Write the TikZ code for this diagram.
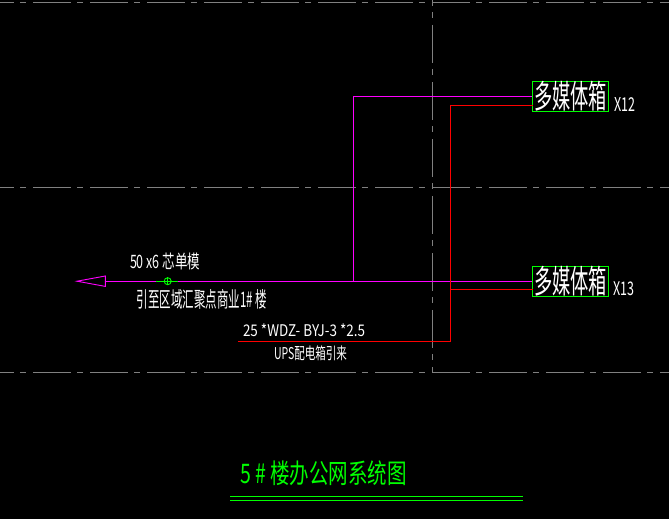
\documentclass[tikz,border=0pt]{standalone}
\usepackage{fontspec}
\usepackage{graphicx}
\newfontfamily\cadfont{Noto Sans CJK SC}
\newcommand{\cadtext}[3]{\resizebox*{#1pt}{#2pt}{\cadfont #3}}
\definecolor{axisgrey}{HTML}{808080}
\definecolor{cadgreen}{HTML}{00FF00}
\definecolor{cadpink}{HTML}{FF00FF}
\definecolor{cadred}{HTML}{FF0000}
\tikzset{
	axisline/.style={axisgrey,line width=0.9pt,dash pattern=on 38pt off 6pt on 6pt off 7pt},
	pinkline/.style={cadpink,line width=0.9pt},
	redline/.style={cadred,line width=0.9pt},
	greenline/.style={cadgreen,line width=0.9pt},
	boxnode/.style={draw=cadgreen,line width=0.9pt,minimum width=76pt,minimum height=29.6pt,inner sep=0pt,text=white},
	labelnode/.style={inner sep=0pt,text=white},
}
\begin{document}
\begin{tikzpicture}[x=1pt,y=-1pt,line join=miter]
	\fill[black] (0,0) rectangle (669,519);
	\useasboundingbox (0,0) rectangle (669,519);
	% axes
	\draw[axisline,dash phase=24pt] (0,2.5)--(669,2.5);
	\draw[axisline,dash phase=24pt] (0,187.5)--(669,187.5);
	\draw[axisline,dash phase=24pt] (0,372.5)--(669,372.5);
	\draw[axisline,dash phase=32pt] (432.5,0)--(432.5,372.5);
	% boxes
	\node[boxnode] (boxa) at (570.7,96.5) {\cadtext{73}{30}{多媒体箱}};
	\node[boxnode] (boxb) at (570.7,281.2) {\cadtext{73}{30}{多媒体箱}};
	\node[labelnode,anchor=west] (xa) at (614,104) {\cadtext{21}{14}{X12}};
	\node[labelnode,anchor=west] (xb) at (613,289) {\cadtext{21}{14}{X13}};
	% cables
	\coordinate (tip) at (77,281.2);
	\coordinate (basetop) at (105.3,276);
	\coordinate (basebot) at (105.3,286.4);
	\coordinate (basemid) at (105.3,281.2);
	\coordinate (pinkup) at (353.5,281.2);
	\coordinate (redend) at (238,341.5);
	\coordinate (redcorner) at (450.5,341.5);
	\coordinate (reda) at (532.7,105.5);
	\coordinate (redb) at (532.7,289.5);
	\draw[pinkline] (tip)--(basetop)--(basebot)--cycle;
	\draw[pinkline] (basemid)--(boxb.west);
	\draw[pinkline] (pinkup)|-(boxa.west);
	\draw[redline] (redend)--(redcorner)|-(reda);
	\draw[redline] (redcorner|-redb)--(redb);
	% junction
	\coordinate (junction) at (167.7,281.2);
	\coordinate (juncl) at (156,281.2);
	\coordinate (juncr) at (177.7,281.2);
	\draw[greenline] (juncl)--(juncr);
	\node[circle,draw=cadgreen,line width=0.9pt,minimum size=7pt,inner sep=0pt] (junc) at (junction) {};
	\draw[cadgreen,line width=0.6pt] (junc.north)--(junc.south) (junc.west)--(junc.east);
	% labels
	\node[labelnode] (fibre) at (165,261.5) {\cadtext{70}{17}{50 x6 芯单模}};
	\node[labelnode] (leadto) at (202,299.5) {\cadtext{130}{20}{引至区域汇聚点商业1\# 楼}};
	\node[labelnode] (cable) at (304,330.5) {\cadtext{122}{13}{25 *WDZ- BYJ-3 *2.5}};
	\node[labelnode] (upsfrom) at (310.5,353.5) {\cadtext{73}{15}{UPS配电箱引来}};
	% title
	\node[labelnode,text=cadgreen] (title) at (323.5,473) {\cadtext{167}{25}{5 \# 楼办公网系统图}};
	\coordinate (rulel) at (230,496.5);
	\coordinate (ruler) at (523,496.5);
	\coordinate (rulell) at (230,500.5);
	\coordinate (rulerr) at (523,500.5);
	\draw[greenline] (rulel)--(ruler);
	\draw[greenline] (rulell)--(rulerr);
\end{tikzpicture}
\end{document}
